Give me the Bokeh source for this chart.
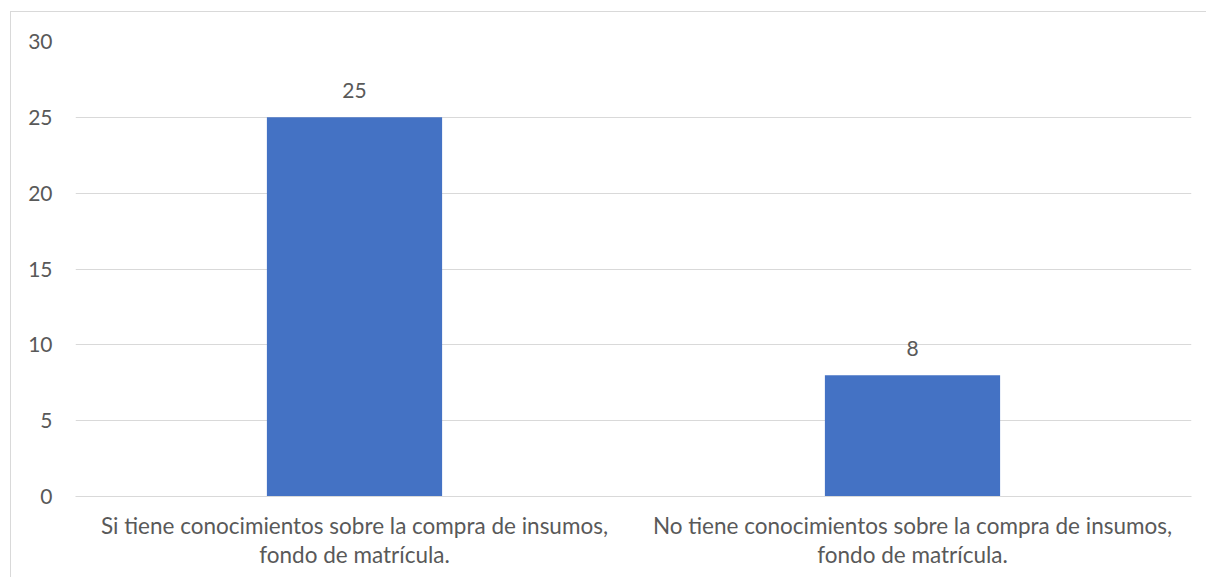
from bokeh.plotting import figure
from bokeh.models import ColumnDataSource, Range1d, FactorRange, SingleIntervalTicker
from bokeh.core.properties import value
from bokeh.embed import file_html
from bokeh.resources import INLINE

categories = [
    "Si tiene conocimientos sobre la compra de insumos,\nfondo de matrícula.",
    "No tiene conocimientos sobre la compra de insumos,\nfondo de matrícula.",
]
counts = [25, 8]
labels = [str(v) for v in counts]

FONT = "Lato"
TXT = "#595959"
GRID = "#d9d9d9"

src = ColumnDataSource(dict(cat=categories, val=counts, lab=labels))

p = figure(
    x_range=FactorRange(*categories, range_padding=0),
    y_range=Range1d(0, 30),
    width=1196, height=566,
    output_backend="svg", toolbar_location=None,
    min_border_left=64, min_border_top=29, min_border_right=16, min_border_bottom=82,
)
p.styles = {
    "border-left": "1px solid #d9d9d9",
    "border-top": "1px solid #d9d9d9",
    "margin-left": "10px",
    "margin-top": "11px",
}
p.outline_line_color = None
p.background_fill_color = "white"
p.border_fill_color = "white"

p.vbar(x="cat", top="val", width=0.314, source=src, color="#4472c4", line_color=None)
p.text(x="cat", y="val", text="lab", source=src, text_align="center",
       text_baseline="alphabetic", y_offset=-27, text_font=value(FONT),
       text_font_size="21px", text_color=TXT)

p.xgrid.grid_line_color = None
p.ygrid.grid_line_color = GRID
p.ygrid.grid_line_width = 1
p.yaxis.ticker = SingleIntervalTicker(interval=5)
p.yaxis.axis_line_color = None
p.yaxis.major_tick_line_color = None
p.yaxis.minor_tick_line_color = None
p.yaxis.major_label_standoff = 17
p.yaxis.major_label_text_font = FONT
p.yaxis.major_label_text_font_size = "21px"
p.yaxis.major_label_text_color = TXT

p.xaxis.axis_line_color = GRID
p.xaxis.major_tick_line_color = None
p.xaxis.minor_tick_line_color = None
p.xaxis.major_label_standoff = 9
p.xaxis.major_label_text_font = FONT
p.xaxis.major_label_text_font_size = "22.5px"
p.xaxis.major_label_text_color = TXT
p.xaxis.major_label_text_align = "center"
p.xaxis.major_label_text_line_height = 1.08

open("out.html", "w").write(file_html(p, INLINE))
